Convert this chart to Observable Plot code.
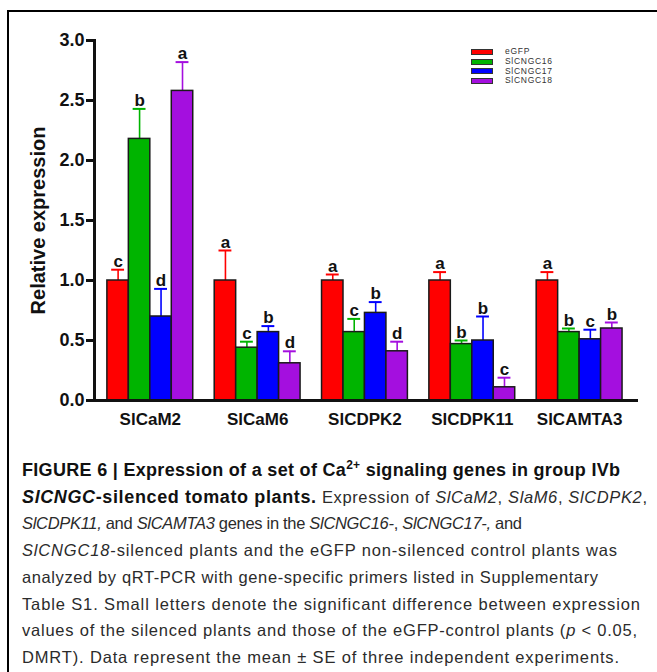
<!DOCTYPE html>
<html>
<head>
<meta charset="utf-8">
<script src="https://cdn.jsdelivr.net/npm/d3@7"></script>
<script src="https://cdn.jsdelivr.net/npm/@observablehq/plot@0.6"></script>
<style>
  html, body { margin: 0; padding: 0; background: #fff; overflow: hidden; }
  #wrap { position: relative; width: 657px; height: 672px; overflow: hidden; font-family: "Liberation Sans", Arial, sans-serif; }
  #frame { position: absolute; left: 7px; top: 10px; width: 800px; height: 800px; border-left: 2px solid #000; border-top: 2px solid #000; }
  #chart { position: absolute; left: 0; top: 0; }
  #chart g[aria-label="y-axis tick label"] text, #chart g[aria-label="x-axis tick label"] text { font-weight: bold; fill: #111; }
  #chart g[aria-label="y-axis label"] text { font-weight: bold; font-size: 20px; fill: #111; }
  #legend { position: absolute; left: 471px; top: 47px; font-size: 8.5px; letter-spacing: 0.7px; color: #333; }
  #legend .row { height: 9.8px; line-height: 9.8px; display: flex; align-items: center; white-space: nowrap; }
  #legend .sw { width: 20px; height: 4px; border: 1px solid #333; margin-right: 12px; }
  #caption { position: absolute; left: 22px; top: 457px; font-family: "Liberation Sans", Arial, sans-serif; font-size: 16.5px; line-height: 26.7px; color: #2b2b2b; white-space: nowrap; }
  #caption .ln { display: block; }
  #caption .ln span.t { display: inline-block; }
  #caption b { color: #111; font-size: 18px; }
</style>
</head>
<body>
<div id="wrap">
  <div id="frame"></div>
  <div id="chart"></div>
  <div id="legend"></div>
  <div id="caption">
    <div class="ln" data-right="620"><span class="t"><b>FIGURE 6 | Expression of a set of Ca<sup style="font-size:12px;line-height:0">2+</sup> signaling genes in group IVb</b></span></div>
    <div class="ln" data-right="647"><span class="t"><b><i>SlCNGC</i>-silenced tomato plants.</b> Expression of <i>SlCaM2</i>, <i>SlaM6</i>, <i>SlCDPK2</i>,</span></div>
    <div class="ln" data-right="522"><span class="t"><i>SlCDPK11,</i> and <i>SlCAMTA3</i> genes in the <i>SlCNGC16-</i>, <i>SlCNGC17-,</i> and</span></div>
    <div class="ln" data-right="617"><span class="t"><i>SlCNGC18</i>-silenced plants and the eGFP non-silenced control plants was</span></div>
    <div class="ln" data-right="598"><span class="t">analyzed by qRT-PCR with gene-specific primers listed in Supplementary</span></div>
    <div class="ln" data-right="640"><span class="t">Table S1. Small letters denote the significant difference between expression</span></div>
    <div class="ln" data-right="637"><span class="t">values of the silenced plants and those of the eGFP-control plants (<i>p</i> &lt; 0.05,</span></div>
    <div class="ln" data-right="619"><span class="t">DMRT). Data represent the mean ± SE of three independent experiments.</span></div>
  </div>
</div>
<script>
const genes = ["SlCaM2", "SlCaM6", "SlCDPK2", "SlCDPK11", "SlCAMTA3"];
const series = ["eGFP", "SlCNGC16", "SlCNGC17", "SlCNGC18"];
const colors = ["#ff0000", "#00b400", "#0000ff", "#a40fdf"];

const eGFP     = [1.00, 1.00, 1.00, 1.00, 1.00];
const SlCNGC16 = [2.18, 0.44, 0.57, 0.47, 0.57];
const SlCNGC17 = [0.70, 0.57, 0.73, 0.50, 0.51];
const SlCNGC18 = [2.58, 0.31, 0.41, 0.11, 0.60];

const eGFP_se     = [0.09, 0.25, 0.05, 0.07, 0.07];
const SlCNGC16_se = [0.25, 0.05, 0.11, 0.03, 0.03];
const SlCNGC17_se = [0.23, 0.05, 0.09, 0.20, 0.08];
const SlCNGC18_se = [0.24, 0.10, 0.08, 0.08, 0.05];

const eGFP_sig     = ["c", "a", "a", "a", "a"];
const SlCNGC16_sig = ["b", "c", "c", "b", "b"];
const SlCNGC17_sig = ["d", "b", "b", "b", "c"];
const SlCNGC18_sig = ["a", "d", "d", "c", "b"];

const yTicks = [0, 0.5, 1.0, 1.5, 2.0, 2.5, 3.0];
const yLabel = "Relative expression";

const values = [eGFP, SlCNGC16, SlCNGC17, SlCNGC18];
const ses = [eGFP_se, SlCNGC16_se, SlCNGC17_se, SlCNGC18_se];
const sigs = [eGFP_sig, SlCNGC16_sig, SlCNGC17_sig, SlCNGC18_sig];

const groupSize = series.length + 1; // four bars plus one gap
const rows = [];
series.forEach((s, si) => genes.forEach((g, gi) => {
  rows.push({gene: g, series: s, value: values[si][gi], se: ses[si][gi], top: values[si][gi] + ses[si][gi], letter: sigs[si][gi], pos: gi * groupSize + si});
}));
const geneCenters = genes.map((g, gi) => gi * groupSize + series.length / 2);

const chart = Plot.plot({
  width: 657,
  height: 440,
  marginLeft: 94,
  marginRight: 21,
  marginTop: 40,
  marginBottom: 40,
  style: {fontFamily: "'Liberation Sans', Arial, sans-serif", background: "transparent", overflow: "visible", color: "#111"},
  x: {domain: [-0.6, genes.length * groupSize - 1 + 0.65], axis: null},
  y: {domain: [0, 3], axis: null},
  color: {domain: series, range: colors},
  marks: [
    Plot.ruleX(rows, {x: d => d.pos + 0.5, y1: "value", y2: "top", stroke: "series", strokeWidth: 1.6}),
    Plot.ruleY(rows, {y: "top", x1: d => d.pos + 0.2, x2: d => d.pos + 0.8, stroke: "series", strokeWidth: 2}),
    Plot.rect(rows, {x1: "pos", x2: d => d.pos + 1, y1: 0, y2: "value", fill: "series", stroke: "#1a1a1a", strokeWidth: 1.5}),
    Plot.text(rows, {x: d => d.pos + 0.5, y: "top", text: "letter", dy: -3, lineAnchor: "bottom", fontWeight: "bold", fontSize: 17, fill: "#111"}),
    Plot.axisY({ticks: yTicks, tickFormat: d3.format(".1f"), tickSize: 8, tickPadding: 2, fontSize: 18, fontWeight: "bold", strokeWidth: 3, label: yLabel, labelAnchor: "center", labelOffset: 64, labelArrow: "none"}),
    Plot.axisX({ticks: geneCenters, tickFormat: d => genes[geneCenters.indexOf(d)], tickSize: 0, tickPadding: 12, fontSize: 17, fontWeight: "bold", label: null}),
    Plot.frame({anchor: "left", strokeWidth: 3}),
    Plot.frame({anchor: "bottom", strokeWidth: 3})
  ]
});
document.getElementById("chart").appendChild(chart);

const legend = d3.select("#legend");
series.forEach((s, i) => {
  const row = legend.append("div").attr("class", "row");
  row.append("div").attr("class", "sw").style("background", colors[i]);
  row.append("span").text(s);
});

// fit each caption line to the reference's line length via letter-spacing
const capLeft = 22;
document.querySelectorAll("#caption .ln").forEach(ln => {
  const t = ln.querySelector("span.t");
  const target = +ln.dataset.right - capLeft;
  const w = t.getBoundingClientRect().width;
  const n = t.textContent.length;
  t.style.letterSpacing = ((target - w) / Math.max(1, n - 1)) + "px";
});
</script>
</body>
</html>
